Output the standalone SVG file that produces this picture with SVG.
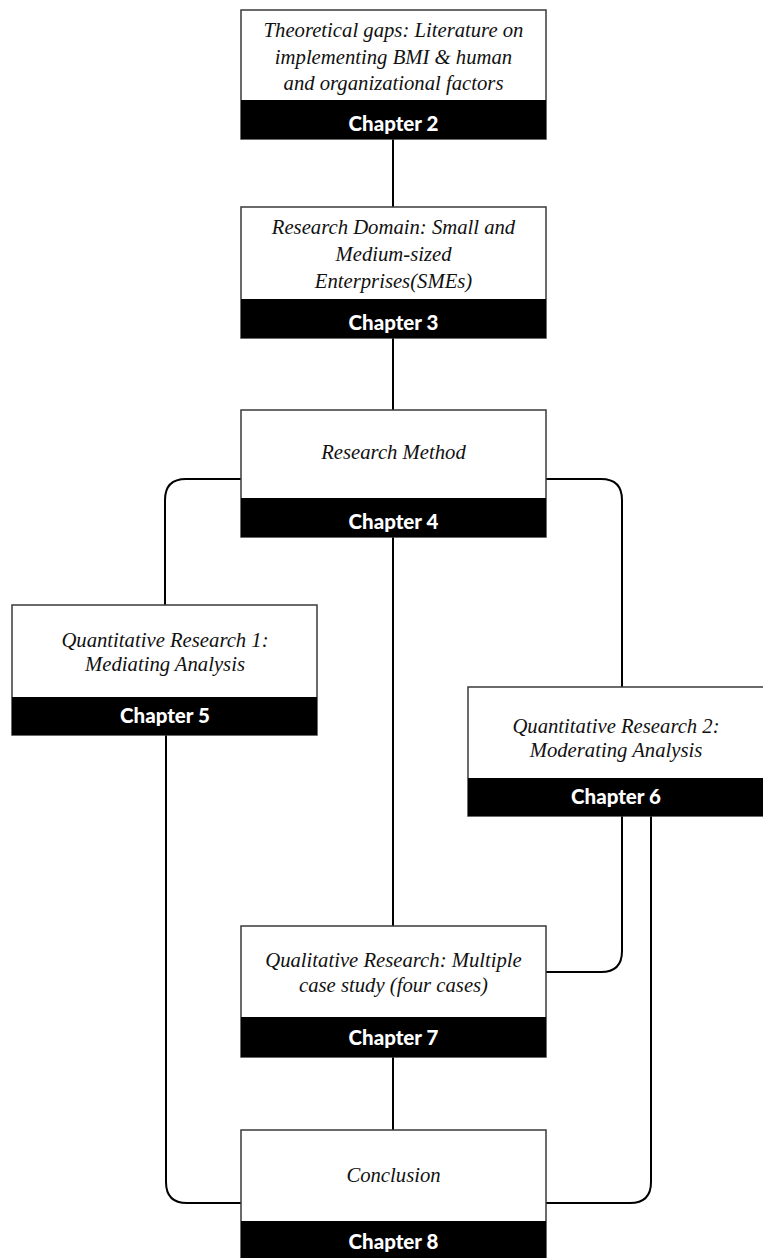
<svg xmlns="http://www.w3.org/2000/svg" width="763" height="1258" viewBox="0 0 763 1258">
  <style>
    .box { fill: #ffffff; stroke: #3a3a3a; stroke-width: 1.5; }
    .band { fill: #000000; }
    .title { font-family: "Liberation Serif", "DejaVu Serif", serif; font-style: italic; font-size: 20.7px; fill: #111111; text-anchor: middle; }
    .chap { font-family: Lato, "Open Sans", "Liberation Sans", sans-serif; font-weight: 900; font-size: 20.5px; fill: #ffffff; text-anchor: middle; }
    .wire { fill: none; stroke: #000000; stroke-width: 2; }
  </style>

  <!-- connectors -->
  <g id="connectors">
    <!-- central spine -->
    <path class="wire" d="M393 139 V207"/>
    <path class="wire" d="M393 338 V410"/>
    <path class="wire" d="M393 537 V926"/>
    <path class="wire" d="M393 1057 V1130"/>
    <!-- left branch: method -> quant 1 -> conclusion -->
    <path class="wire" d="M241 479 H186 Q165 479 165 500 V605"/>
    <path class="wire" d="M166 735 V1182 Q166 1203 187 1203 H241"/>
    <!-- right branch: method -> quant 2 -->
    <path class="wire" d="M546 479 H601 Q622 479 622 500 V687"/>
    <!-- quant 2 -> qualitative -->
    <path class="wire" d="M622 816 V951 Q622 972 601 972 H546"/>
    <!-- quant 2 -> conclusion -->
    <path class="wire" d="M651 816 V1182 Q651 1203 630 1203 H546"/>
  </g>

  <g id="chapter2">
    <rect class="box" x="241" y="10" width="305" height="129"/>
    <rect class="band" x="241" y="100" width="305" height="39"/>
    <text class="title" x="393.5" y="37">Theoretical gaps: Literature on</text>
    <text class="title" x="393.5" y="64">implementing BMI &amp; human</text>
    <text class="title" x="393.5" y="90">and organizational factors</text>
    <text class="chap" x="393.5" y="131">Chapter 2</text>
  </g>

  <g id="chapter3">
    <rect class="box" x="241" y="207" width="305" height="131"/>
    <rect class="band" x="241" y="299" width="305" height="39"/>
    <text class="title" x="393.5" y="234">Research Domain: Small and</text>
    <text class="title" x="393.5" y="261">Medium-sized</text>
    <text class="title" x="393.5" y="288">Enterprises(SMEs)</text>
    <text class="chap" x="393.5" y="330">Chapter 3</text>
  </g>

  <g id="chapter4">
    <rect class="box" x="241" y="410" width="305" height="127"/>
    <rect class="band" x="241" y="498" width="305" height="39"/>
    <text class="title" x="393.5" y="459">Research Method</text>
    <text class="chap" x="393.5" y="529">Chapter 4</text>
  </g>

  <g id="chapter5">
    <rect class="box" x="12" y="605" width="305" height="130"/>
    <rect class="band" x="12" y="697" width="305" height="38"/>
    <text class="title" x="165" y="647">Quantitative Research 1:</text>
    <text class="title" x="165" y="671">Mediating Analysis</text>
    <text class="chap" x="165" y="723">Chapter 5</text>
  </g>

  <g id="chapter6">
    <rect class="box" x="468" y="687" width="305" height="129"/>
    <rect class="band" x="468" y="778" width="305" height="38"/>
    <text class="title" x="616" y="733">Quantitative Research 2:</text>
    <text class="title" x="616" y="757">Moderating Analysis</text>
    <text class="chap" x="616" y="804">Chapter 6</text>
  </g>

  <g id="chapter7">
    <rect class="box" x="241" y="926" width="305" height="131"/>
    <rect class="band" x="241" y="1017" width="305" height="40"/>
    <text class="title" x="393.5" y="967">Qualitative Research: Multiple</text>
    <text class="title" x="393.5" y="992">case study (four cases)</text>
    <text class="chap" x="393.5" y="1045">Chapter 7</text>
  </g>

  <g id="chapter8">
    <rect class="box" x="241" y="1130" width="305" height="140"/>
    <rect class="band" x="241" y="1221" width="305" height="49"/>
    <text class="title" x="393.5" y="1182">Conclusion</text>
    <text class="chap" x="393.5" y="1249">Chapter 8</text>
  </g>
</svg>
